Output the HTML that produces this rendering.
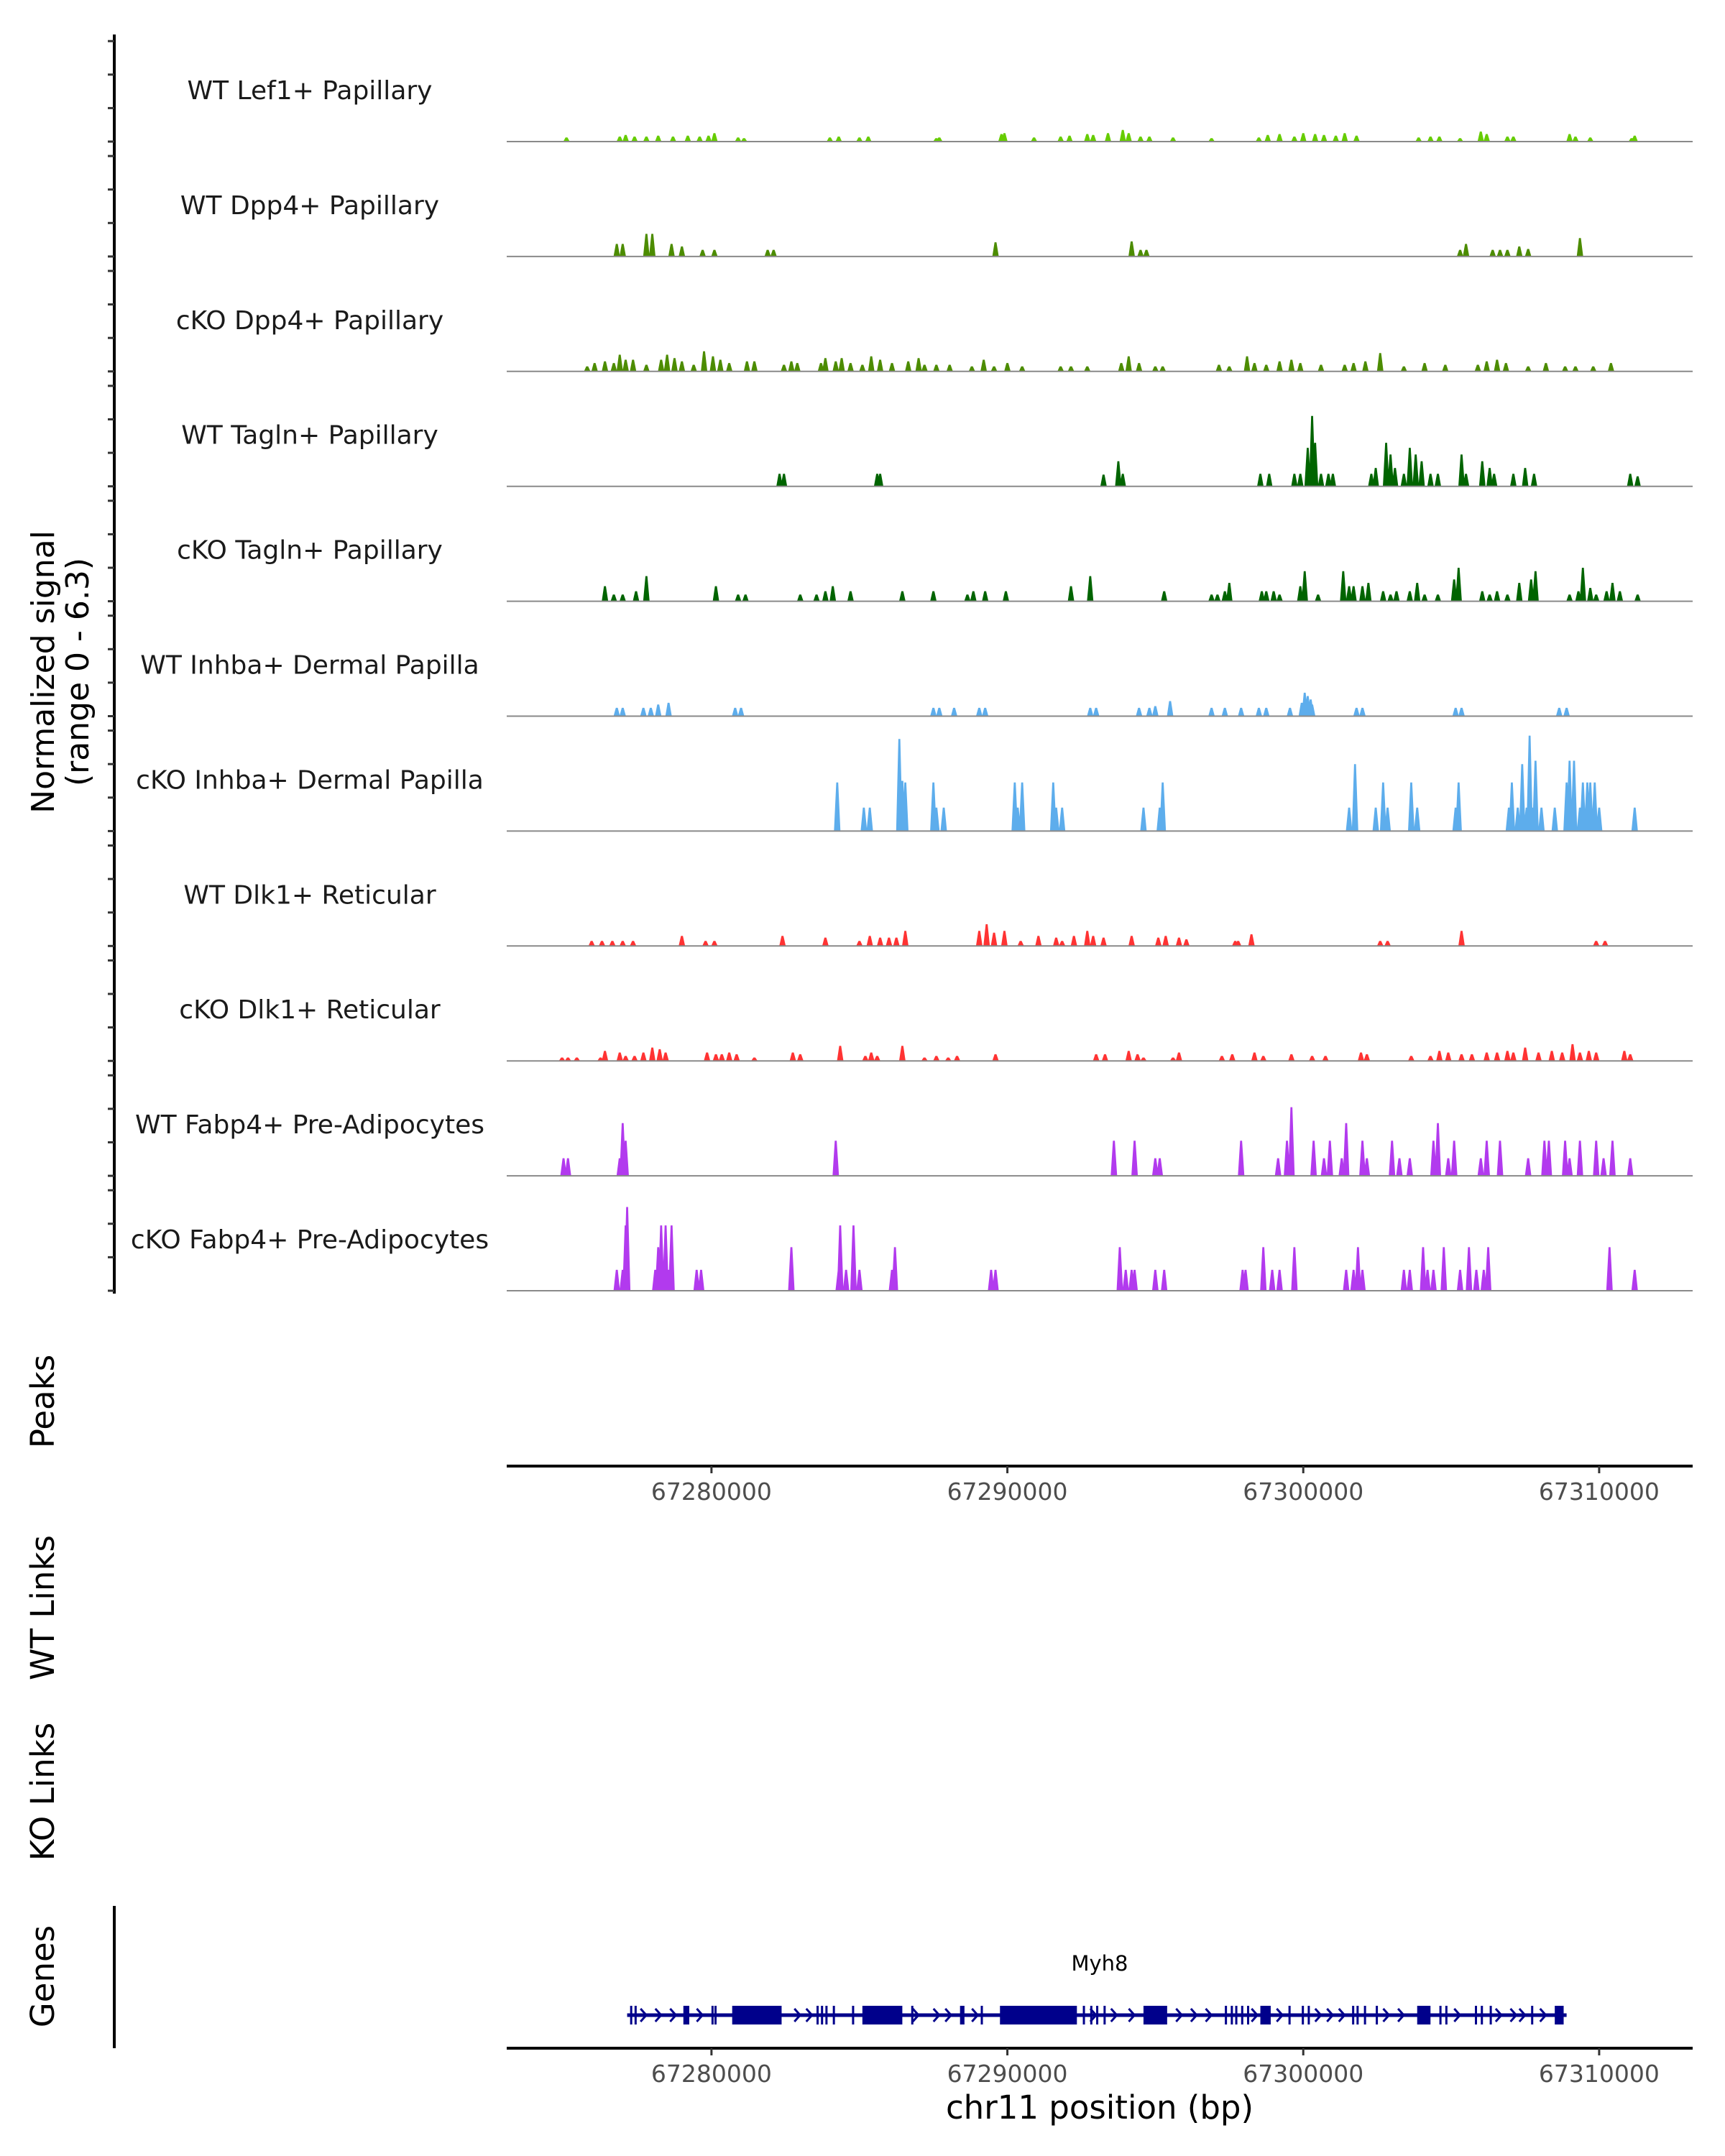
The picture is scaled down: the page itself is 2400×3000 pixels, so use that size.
<!DOCTYPE html>
<html><head><meta charset="utf-8"><style>
html,body{margin:0;padding:0;background:#fff;}
svg{display:block;font-family:"DejaVu Sans","Liberation Sans",sans-serif;}
</style></head><body>
<svg id="chart" width="2400" height="3000" viewBox="0 0 2400 3000" xmlns="http://www.w3.org/2000/svg">
<rect width="2400" height="3000" fill="#fff"/>
<g id="tracks"></g>
<g id="genes"></g>
<text transform="translate(63,935) rotate(-90)" text-anchor="middle" font-size="44" dominant-baseline="middle">Normalized signal</text>
<text transform="translate(111,935) rotate(-90)" text-anchor="middle" font-size="44" dominant-baseline="middle">(range 0 - 6.3)</text>
<text transform="translate(63,1950) rotate(-90)" text-anchor="middle" font-size="45" dominant-baseline="middle">Peaks</text>
<text transform="translate(63,2237) rotate(-90)" text-anchor="middle" font-size="45" dominant-baseline="middle">WT Links</text>
<text transform="translate(63,2493) rotate(-90)" text-anchor="middle" font-size="45" dominant-baseline="middle">KO Links</text>
<text transform="translate(63,2750) rotate(-90)" text-anchor="middle" font-size="45" dominant-baseline="middle">Genes</text>
<text x="1530" y="2948" text-anchor="middle" font-size="45">chr11 position (bp)</text>
</svg>
<script>
const trackNames = ["WT Lef1+ Papillary","WT Dpp4+ Papillary","cKO Dpp4+ Papillary","WT Tagln+ Papillary","cKO Tagln+ Papillary","WT Inhba+ Dermal Papilla","cKO Inhba+ Dermal Papilla","WT Dlk1+ Reticular","cKO Dlk1+ Reticular","WT Fabp4+ Pre-Adipocytes","cKO Fabp4+ Pre-Adipocytes"];
const trackColors = ["#66CC00","#4C8C00","#4C8C00","#006400","#006400","#5DADEC","#5DADEC","#FF3333","#FF3333","#B23AEE","#B23AEE"];
const xTicks = [67280000,67290000,67300000,67310000];
const yTicks = [0,2,4,6];
// peak positions in kb, heights in normalized signal
const pos0 = [67275.1,67276.9,67277.1,67277.4,67277.8,67278.2,67278.7,67279.2,67279.6,67279.9,67280.1,67280.9,67281.1,67284.0,67284.3,67285.0,67285.3,67287.6,67287.7,67289.8,67289.9,67290.9,67291.8,67292.1,67292.7,67292.9,67293.4,67293.9,67294.1,67294.5,67294.8,67295.6,67296.9,67298.5,67298.8,67299.2,67299.7,67300.0,67300.4,67300.7,67301.1,67301.4,67301.8,67303.9,67304.3,67304.6,67305.3,67306.0,67306.2,67306.9,67307.1,67309.0,67309.2,67309.7,67311.1,67311.2];
const val0 = [.25,.3,.4,.3,.3,.35,.3,.35,.3,.35,.5,.25,.2,.25,.3,.25,.3,.2,.25,.45,.5,.25,.3,.35,.45,.4,.5,.7,.5,.3,.3,.25,.2,.25,.4,.45,.3,.5,.45,.4,.35,.5,.35,.25,.3,.3,.2,.6,.45,.3,.3,.45,.3,.25,.2,.35];
const pos1 = [67276.8,67277.0,67277.8,67278.0,67278.65,67279.0,67279.7,67280.1,67281.9,67282.1,67289.6,67294.2,67294.5,67294.7,67305.3,67305.5,67306.4,67306.65,67306.9,67307.3,67307.6,67309.35];
const val1 = [.75,.75,1.35,1.35,.75,.6,.4,.4,.4,.4,.85,.9,.4,.4,.4,.75,.4,.4,.4,.6,.45,1.1];
const pos2 = [67275.8,67276.05,67276.4,67276.7,67276.9,67277.1,67277.35,67277.8,67278.3,67278.5,67278.75,67279.0,67279.4,67279.75,67280.05,67280.3,67280.6,67281.2,67281.45,67282.45,67282.7,67282.9,67283.7,67283.85,67284.2,67284.4,67284.7,67285.1,67285.4,67285.7,67286.1,67286.65,67287.0,67287.2,67287.6,67288.05,67288.8,67289.2,67289.55,67290.0,67290.5,67291.8,67292.15,67292.7,67293.85,67294.1,67294.45,67295.0,67295.25,67297.15,67297.5,67298.1,67298.35,67298.75,67299.2,67299.6,67299.9,67300.6,67301.4,67301.7,67302.1,67302.6,67303.4,67304.1,67304.8,67305.9,67306.2,67306.55,67306.85,67307.6,67308.2,67308.85,67309.2,67309.8,67310.4];
const val2 = [.3,.5,.6,.5,1.0,.7,.7,.4,.7,1.0,.8,.6,.4,1.2,.9,.7,.5,.6,.6,.4,.6,.5,.5,.8,.6,.8,.5,.4,.9,.7,.5,.6,.8,.4,.4,.4,.3,.7,.3,.5,.3,.3,.3,.3,.5,.9,.5,.3,.3,.4,.3,.9,.5,.4,.6,.7,.5,.4,.4,.5,.6,1.1,.3,.5,.4,.4,.6,.7,.5,.3,.5,.3,.3,.3,.5];
const pos3 = [67282.3,67282.45,67285.6,67285.7,67293.25,67293.75,67293.9,67298.55,67298.85,67299.7,67299.9,67300.15,67300.3,67300.4,67300.6,67300.85,67301.0,67302.3,67302.45,67302.8,67302.95,67303.1,67303.4,67303.6,67303.8,67304.0,67304.3,67304.55,67305.35,67305.5,67306.05,67306.3,67306.45,67307.1,67307.5,67307.8,67311.05,67311.3];
const val3 = [.75,.75,.75,.75,.7,1.5,.75,.75,.75,.75,.75,2.3,4.2,2.6,.75,.75,.75,.75,1.1,2.6,1.9,1.1,.75,2.3,1.9,1.5,.75,.75,1.9,.75,1.5,1.1,.75,.75,1.1,.75,.75,.6];
const pos4 = [67276.4,67276.7,67277.0,67277.45,67277.8,67280.15,67280.9,67281.15,67283.0,67283.55,67283.85,67284.1,67284.7,67286.45,67287.5,67288.65,67288.85,67289.25,67289.95,67292.15,67292.8,67295.3,67296.9,67297.1,67297.35,67297.5,67298.6,67298.75,67299.0,67299.2,67299.9,67300.05,67300.5,67301.35,67301.55,67301.7,67302.0,67302.2,67302.7,67302.95,67303.15,67303.6,67303.85,67304.1,67304.55,67305.1,67305.25,67306.05,67306.3,67306.55,67306.9,67307.3,67307.7,67307.85,67309.0,67309.3,67309.45,67309.7,67309.9,67310.25,67310.45,67310.7,67311.3];
const val4 = [.9,.4,.4,.6,1.5,.9,.4,.4,.4,.4,.6,.9,.6,.6,.6,.4,.6,.6,.6,.9,1.5,.6,.4,.4,.6,1.1,.6,.6,.6,.4,.9,1.8,.4,1.8,.9,.9,.9,1.1,.6,.4,.6,.6,1.1,.4,.4,1.3,2.0,.6,.4,.6,.4,1.1,1.3,1.8,.4,.6,2.0,.8,.4,.6,1.1,.6,.4];
const pos5 = [67276.8,67277.0,67277.7,67277.95,67278.2,67278.55,67280.8,67281.0,67287.5,67287.7,67288.2,67289.05,67289.25,67292.8,67293.0,67294.45,67294.8,67295.0,67295.5,67296.9,67297.35,67297.9,67298.5,67298.75,67299.55,67299.95,67300.05,67300.15,67300.25,67300.3,67301.8,67302.0,67305.15,67305.35,67308.65,67308.9];
const val5 = [.5,.5,.5,.5,.7,.8,.5,.5,.5,.5,.5,.5,.5,.5,.5,.5,.5,.6,.9,.5,.5,.5,.5,.5,.5,.8,1.4,1.2,1.0,.7,.5,.5,.5,.5,.5,.5];
const pos6 = [67284.25,67285.15,67285.35,67286.35,67286.45,67286.55,67287.5,67287.6,67287.85,67290.25,67290.35,67290.5,67291.55,67291.65,67291.85,67294.6,67295.15,67295.25,67301.55,67301.75,67302.45,67302.7,67302.85,67303.65,67303.85,67305.15,67305.25,67306.95,67307.05,67307.25,67307.4,67307.55,67307.65,67307.75,67307.85,67308.05,67308.5,67308.9,67309.0,67309.15,67309.35,67309.45,67309.6,67309.7,67309.85,67310.0,67311.2];
const val6 = [2.9,1.4,1.4,5.5,3.0,2.9,2.9,1.4,1.4,2.9,1.4,2.9,2.9,1.4,1.4,1.4,1.4,2.9,1.4,4.0,1.4,2.9,1.4,2.9,1.4,1.4,2.9,1.4,2.9,1.4,4.0,1.4,5.7,1.4,4.2,1.4,1.4,2.9,4.2,4.2,1.4,2.9,2.9,2.9,2.9,1.4,1.4];
const pos7 = [67275.95,67276.3,67276.65,67277.0,67277.35,67279.0,67279.8,67280.1,67282.4,67283.85,67285.0,67285.35,67285.7,67286.0,67286.25,67286.55,67289.05,67289.3,67289.55,67289.9,67290.45,67291.05,67291.65,67291.85,67292.25,67292.7,67292.9,67293.25,67294.2,67295.1,67295.35,67295.8,67296.05,67297.7,67297.8,67298.25,67302.6,67302.85,67305.35,67309.9,67310.2];
const val7 = [.3,.3,.3,.3,.3,.6,.3,.3,.6,.5,.3,.6,.5,.5,.5,.9,.9,1.3,.8,.9,.3,.6,.5,.3,.6,.9,.6,.5,.6,.5,.6,.5,.4,.3,.3,.7,.3,.3,.9,.3,.3];
const pos8 = [67274.95,67275.15,67275.45,67276.25,67276.4,67276.9,67277.1,67277.4,67277.7,67278.0,67278.25,67278.45,67279.85,67280.15,67280.35,67280.6,67280.85,67281.45,67282.75,67283.0,67284.35,67285.2,67285.4,67285.6,67286.45,67287.2,67287.6,67288.0,67288.3,67289.6,67293.0,67293.3,67294.1,67294.4,67294.6,67295.6,67295.8,67297.25,67297.6,67298.35,67298.65,67299.6,67300.3,67300.75,67301.95,67302.15,67303.65,67304.3,67304.6,67304.9,67305.35,67305.7,67306.2,67306.55,67306.9,67307.1,67307.5,67307.95,67308.4,67308.75,67309.1,67309.35,67309.65,67309.9,67310.85,67311.05];
const val8 = [.2,.2,.2,.2,.6,.5,.3,.3,.5,.8,.7,.5,.5,.4,.4,.5,.4,.2,.5,.4,.9,.3,.5,.3,.9,.2,.3,.2,.3,.4,.4,.4,.6,.4,.2,.2,.5,.3,.4,.5,.3,.4,.3,.3,.5,.4,.3,.3,.6,.5,.4,.4,.5,.5,.6,.5,.8,.5,.6,.5,1.0,.5,.6,.5,.6,.4];
const pos9 = [67275.0,67275.15,67276.9,67277.0,67277.1,67284.2,67293.6,67294.3,67295.0,67295.15,67297.9,67299.15,67299.45,67299.6,67300.35,67300.7,67300.9,67301.3,67301.45,67302.0,67302.15,67303.0,67303.25,67303.6,67304.4,67304.55,67304.9,67305.1,67306.0,67306.2,67306.65,67307.6,67308.15,67308.3,67308.85,67309.0,67309.35,67309.9,67310.15,67310.45,67311.05];
const val9 = [1.05,1.05,1.05,3.15,2.1,2.1,2.1,2.1,1.05,1.05,2.1,1.05,2.1,4.1,2.1,1.05,2.1,1.05,3.15,2.1,1.05,2.1,1.05,1.05,2.1,3.15,1.05,2.1,1.05,2.1,2.1,1.05,2.1,2.1,2.1,1.05,2.1,2.1,1.05,2.1,1.05];
const pos10 = [67276.8,67277.0,67277.1,67277.15,67278.1,67278.2,67278.3,67278.35,67278.45,67278.55,67278.65,67279.5,67279.65,67282.7,67284.3,67284.35,67284.55,67284.8,67285.0,67286.1,67286.2,67289.45,67289.6,67293.8,67294.0,67294.2,67294.3,67295.0,67295.3,67297.95,67298.05,67298.65,67298.95,67299.2,67299.7,67301.45,67301.7,67301.85,67302.0,67303.4,67303.6,67304.05,67304.2,67304.4,67304.75,67305.3,67305.6,67305.85,67306.1,67306.25,67310.35,67311.2];
const val10 = [1.25,1.25,3.9,5.0,1.25,2.6,3.9,1.25,3.9,1.25,3.9,1.25,1.25,2.6,1.25,3.9,1.25,3.9,1.25,1.25,2.6,1.25,1.25,2.6,1.25,1.25,1.25,1.25,1.25,1.25,1.25,2.6,1.25,1.25,2.6,1.25,1.25,2.6,1.25,1.25,1.25,2.6,1.25,1.25,2.6,1.25,2.6,1.25,1.25,2.6,2.6,1.25];
const trackPos = [pos0,pos1,pos2,pos3,pos4,pos5,pos6,pos7,pos8,pos9,pos10];
const trackVal = [val0,val1,val2,val3,val4,val5,val6,val7,val8,val9,val10];
// gene model (kb)
const geneStart = 67277.15, geneEnd = 67308.9;
const exonStarts = [67277.25,67277.4,67279.05,67280.0,67280.1,67280.7,67283.55,67283.7,67283.85,67284.1,67284.75,67285.1,67286.75,67288.4,67289.1,67289.75,67292.55,67292.8,67293.0,67293.25,67294.6,67297.35,67297.55,67297.7,67297.9,67298.1,67298.55,67299.5,67299.95,67300.15,67301.65,67301.8,67302.05,67302.45,67303.85,67304.6,67304.8,67305.8,67306.0,67306.3,67307.7,67308.5];
const exonEnds = [67277.3,67277.45,67279.25,67280.05,67280.15,67282.37,67283.6,67283.75,67283.9,67284.15,67284.8,67286.45,67286.8,67288.55,67289.15,67292.35,67292.6,67292.85,67293.05,67293.3,67295.4,67297.4,67297.6,67297.75,67297.95,67298.15,67298.9,67299.55,67300.0,67300.2,67301.7,67301.85,67302.1,67302.5,67304.3,67304.65,67304.85,67305.85,67306.05,67306.35,67307.75,67308.8];
const arrowPos = [67277.7,67278.2,67278.7,67279.6,67282.9,67283.3,67286.9,67287.6,67288.0,67288.9,67292.9,67293.6,67294.2,67295.8,67296.3,67296.8,67298.35,67299.2,67300.5,67300.9,67301.3,67302.8,67303.3,67305.2,67306.6,67307.1,67307.4,67308.1];

const NS="http://www.w3.org/2000/svg";
const X0=705,X1=2355,D0=67273080,D1=67313160;
function xs(bp){return X0+(bp-D0)/(D1-D0)*(X1-X0);}
function xk(kb){return xs(kb*1000);}
const base0=197, trackStep=159.9, unitPx=23.3;
function ys(i,v){return base0+i*trackStep - v*unitPx;}
function mk(tag,attrs,parent){const e=document.createElementNS(NS,tag);for(const k in attrs)e.setAttribute(k,attrs[k]);parent.appendChild(e);return e;}
const svg=document.getElementById('chart');
const tg=document.getElementById('tracks');

const ax=mk('line',{x1:159,y1:48,x2:159,y2:1800,stroke:'#000','stroke-width':4},tg);


for(let i=0;i<trackNames.length;i++){
  const b=base0+i*trackStep;
  for(const t of yTicks){
    const tk=mk('line',{x1:150,x2:159,y1:ys(i,t),y2:ys(i,t),stroke:'#333','stroke-width':3},tg);
    
    
  }
  const g=mk('g',{},tg);
  
  
  const lab=mk('text',{x:431,y:b-59,'text-anchor':'middle','font-size':36,fill:'#1a1a1a'},g);
  lab.textContent=trackNames[i];
  
  
  const ps=trackPos[i], vs=trackVal[i];
  let d='';
  for(let j=0;j<ps.length;j++){
    const c=xk(ps[j]); const top=ys(i,vs[j]); const w=4.5;
    d+=`M${(c-w).toFixed(1)},${b}L${(c-w*0.3).toFixed(1)},${top.toFixed(1)}L${(c+w*0.3).toFixed(1)},${top.toFixed(1)}L${(c+w).toFixed(1)},${b}Z`;
  }
  const p=mk('path',{d:d,fill:trackColors[i]},g);
  
  
  const bl=mk('line',{x1:X0,x2:X1,y1:b,y2:b,stroke:'#8a8a8a','stroke-width':2},g);
  
  
}

function xAxis(y,name){
  const g=mk('g',{},svg);
  
  
  mk('line',{x1:X0,x2:X1,y1:y,y2:y,stroke:'#000','stroke-width':4},g);
  for(const t of xTicks){
    const x=xs(t);
    mk('line',{x1:x,x2:x,y1:y,y2:y+10,stroke:'#333','stroke-width':3},g);
    const tx=mk('text',{x:x,y:y+47,'text-anchor':'middle','font-size':33,fill:'#4d4d4d'},g);
    tx.textContent=t;
    
    
  }
}
xAxis(2040,'peaks-x-axis');
xAxis(2850,'genes-x-axis');

const gg=document.getElementById('genes');
const gl=mk('line',{x1:159,x2:159,y1:2652,y2:2850,stroke:'#000','stroke-width':4},gg);


const gy=2804, gcol='#00008B';
const intr=mk('line',{x1:xk(geneStart),x2:xk(geneEnd),y1:gy,y2:gy,stroke:gcol,'stroke-width':5},gg);


for(let j=0;j<exonStarts.length;j++){
  const x1=xk(exonStarts[j]), x2=xk(exonEnds[j]);
  const r=mk('rect',{x:x1,y:gy-13,width:Math.max(3,x2-x1),height:26,fill:gcol},gg);
  
  
}
for(const a of arrowPos){
  const x=xk(a);
  const ar=mk('path',{d:`M${x-4},${gy-9}L${x+4},${gy}L${x-4},${gy+9}`,fill:'none',stroke:gcol,'stroke-width':3},gg);
  
  
}
const gn=mk('text',{x:1530,y:2742,'text-anchor':'middle','font-size':29,fill:'#000'},gg);
gn.textContent='Myh8';


</script>
</body></html>
